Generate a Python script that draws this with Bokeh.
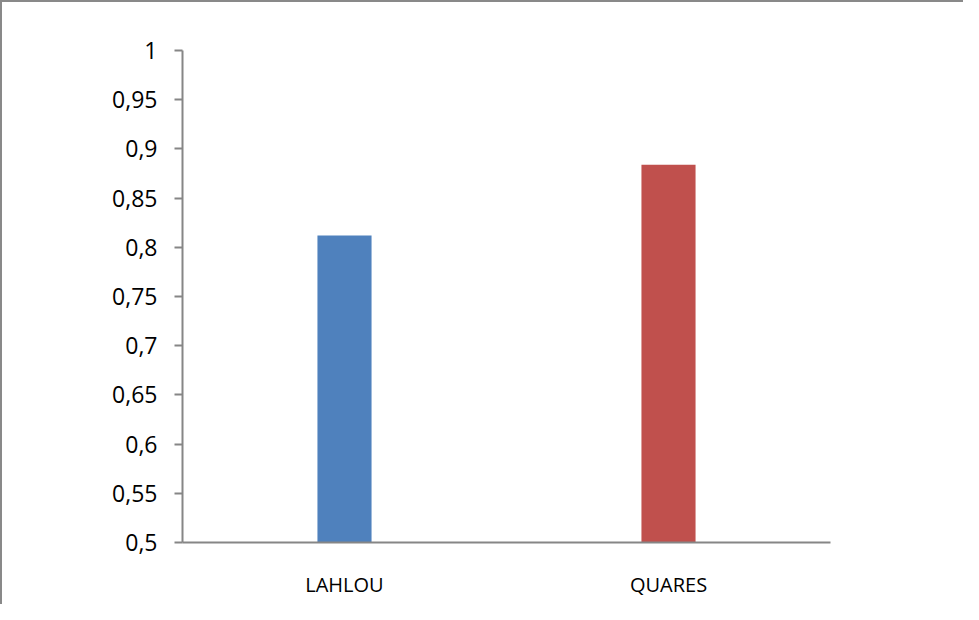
from bokeh.plotting import figure
from bokeh.models import FactorRange, Range1d, FixedTicker, CustomJSTickFormatter, ColumnDataSource
from bokeh.embed import file_html
from bokeh.resources import INLINE

categories = ["LAHLOU", "QUARES"]
values = [0.812, 0.884]
colors = ["#4F81BD", "#C0504D"]
y_ticks = [0.5, 0.55, 0.6, 0.65, 0.7, 0.75, 0.8, 0.85, 0.9, 0.95, 1.0]

src = ColumnDataSource(dict(cat=categories, val=values, color=colors))

p = figure(width=963, height=604, output_backend="svg", toolbar_location=None,
           x_range=FactorRange(*categories, range_padding=0),
           y_range=Range1d(0.5, 1.0),
           min_border_left=180, min_border_right=135, min_border_top=48, min_border_bottom=64)
p.styles = {"border-top": "2px solid #898989", "border-left": "2px solid #898989"}

p.vbar(x="cat", top="val", bottom=0.5, width=0.167, fill_color="color", line_color=None, source=src)

p.outline_line_color = None
p.xgrid.visible = False
p.ygrid.visible = False
p.background_fill_color = "white"
p.border_fill_color = "white"

font = "Open Sans"
ax = p.yaxis[0]
ax.ticker = FixedTicker(ticks=y_ticks)
ax.formatter = CustomJSTickFormatter(code="""
let s = tick.toFixed(2);
s = s.replace(/0+$/, '').replace(/\\.$/, '');
return s.replace('.', ',');
""")
ax.axis_line_color = "#868686"
ax.axis_line_width = 2
ax.major_tick_line_color = "#868686"
ax.major_tick_line_width = 2
ax.major_tick_out = 8
ax.major_tick_in = 0
ax.minor_tick_line_color = None
ax.major_label_text_font = font
ax.major_label_text_font_size = "23px"
ax.major_label_text_color = "black"
ax.major_label_standoff = 17

xa = p.xaxis[0]
xa.axis_line_color = "#868686"
xa.axis_line_width = 2
xa.major_tick_line_color = None
xa.minor_tick_line_color = None
xa.major_label_text_font = font
xa.major_label_text_font_size = "20px"
xa.major_label_text_color = "black"
xa.major_label_standoff = 22

open("out.html", "w").write(file_html(p, INLINE))
